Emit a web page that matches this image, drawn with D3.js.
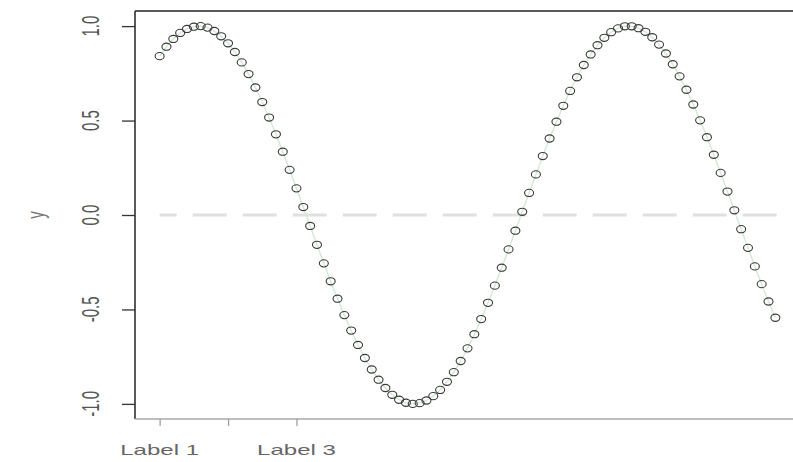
<!DOCTYPE html>
<html>
<head>
<meta charset="utf-8">
<script src="https://cdn.jsdelivr.net/npm/d3@7"></script>
<style>
  html, body { margin: 0; padding: 0; background: #fff; }
  svg { display: block; font-family: "Liberation Sans", Arial, sans-serif; }
</style>
</head>
<body>
<svg id="chart" width="793" height="462"></svg>
<script>
// Sampled values of the series
const xValues = [
  1.0, 1.1, 1.2, 1.3, 1.4, 1.5, 1.6, 1.7, 1.8, 1.9,
  2.0, 2.1, 2.2, 2.3, 2.4, 2.5, 2.6, 2.7, 2.8, 2.9,
  3.0, 3.1, 3.2, 3.3, 3.4, 3.5, 3.6, 3.7, 3.8, 3.9,
  4.0, 4.1, 4.2, 4.3, 4.4, 4.5, 4.6, 4.7, 4.8, 4.9,
  5.0, 5.1, 5.2, 5.3, 5.4, 5.5, 5.6, 5.7, 5.8, 5.9,
  6.0, 6.1, 6.2, 6.3, 6.4, 6.5, 6.6, 6.7, 6.8, 6.9,
  7.0, 7.1, 7.2, 7.3, 7.4, 7.5, 7.6, 7.7, 7.8, 7.9,
  8.0, 8.1, 8.2, 8.3, 8.4, 8.5, 8.6, 8.7, 8.8, 8.9,
  9.0, 9.1, 9.2, 9.3, 9.4, 9.5, 9.6, 9.7, 9.8, 9.9,
  10.0
];
const yValues = [
  0.841, 0.891, 0.932, 0.964, 0.985, 0.997, 1.000, 0.992, 0.974, 0.946,
  0.909, 0.863, 0.808, 0.746, 0.675, 0.598, 0.516, 0.427, 0.335, 0.239,
  0.141, 0.042, -0.058, -0.158, -0.256, -0.351, -0.443, -0.530, -0.612, -0.688,
  -0.757, -0.818, -0.872, -0.916, -0.952, -0.978, -0.994, -1.000, -0.996, -0.982,
  -0.959, -0.926, -0.883, -0.832, -0.773, -0.706, -0.631, -0.551, -0.465, -0.374,
  -0.279, -0.182, -0.083, 0.017, 0.117, 0.215, 0.312, 0.405, 0.494, 0.578,
  0.657, 0.729, 0.794, 0.850, 0.899, 0.938, 0.968, 0.988, 0.999, 0.999,
  0.989, 0.970, 0.941, 0.902, 0.855, 0.798, 0.734, 0.663, 0.585, 0.501,
  0.412, 0.319, 0.223, 0.124, 0.025, -0.075, -0.174, -0.272, -0.366, -0.458,
  -0.544
];

// Axis ticks and labels
const xTickValues = [1, 2, 3];
const xTickLabels = ["Label 1", "", "Label 3"];
const yTickValues = [-1.0, -0.5, 0.0, 0.5, 1.0];
const yTickLabels = ["-1.0", "-0.5", "0.0", "0.5", "1.0"];
const yAxisTitle = "y";
const referenceLevel = [0];

const svg = d3.select("#chart");
const plot = { left: 135, right: 800, top: 11, bottom: 419 };

// Data range padded by 4% on each side
const xExt = d3.extent(xValues);
const xPad = (xExt[1] - xExt[0]) * 0.04;
const x = d3.scaleLinear().domain([xExt[0] - xPad, xExt[1] + xPad]).range([plot.left, plot.right]);
const yExt = d3.extent(yValues);
const yPad = (yExt[1] - yExt[0]) * 0.04;
const y = d3.scaleLinear().domain([yExt[0] - yPad, yExt[1] + yPad]).range([plot.bottom, plot.top]);

const stretch = 1.6; // horizontal text stretch

// Dashed reference line at zero
svg.selectAll("line.ref").data(referenceLevel).join("line")
  .attr("class", "ref")
  .attr("x1", x(xExt[0])).attr("x2", x(xExt[1]) + 6)
  .attr("y1", d => y(d)).attr("y2", d => y(d))
  .attr("stroke", "#e0e0e0").attr("stroke-width", 3)
  .attr("stroke-dasharray", "34,16").attr("stroke-dashoffset", 17);

// Faint trace along the series
const pts = xValues.map((v, i) => [v, yValues[i]]);
svg.append("path")
  .datum(pts)
  .attr("d", d3.line().x(d => x(d[0])).y(d => y(d[1])))
  .attr("fill", "none")
  .attr("stroke", "#d2ead2").attr("stroke-width", 1.4);

// Open circle markers
svg.selectAll("ellipse.pt").data(pts).join("ellipse")
  .attr("class", "pt")
  .attr("cx", d => x(d[0])).attr("cy", d => y(d[1]))
  .attr("rx", 4.5).attr("ry", 3.6)
  .attr("fill", "none").attr("stroke", "#3a3a3a").attr("stroke-width", 1.1);

// Plot frame
svg.append("line").attr("x1", plot.left).attr("x2", 793).attr("y1", plot.top).attr("y2", plot.top)
  .attr("stroke", "#222").attr("stroke-width", 1.5);
svg.append("line").attr("x1", plot.left).attr("x2", plot.left).attr("y1", plot.top).attr("y2", plot.bottom)
  .attr("stroke", "#222").attr("stroke-width", 1.5);
svg.append("line").attr("x1", plot.left).attr("x2", 793).attr("y1", plot.bottom).attr("y2", plot.bottom)
  .attr("stroke", "#a8a8a8").attr("stroke-width", 1.5);

// Y axis
const yAxis = d3.axisLeft(y).tickValues(yTickValues).tickSize(13).tickFormat("");
const gy = svg.append("g").attr("transform", `translate(${plot.left},0)`).call(yAxis);
gy.select(".domain").remove();
gy.selectAll(".tick line").attr("stroke", "#333").attr("stroke-width", 1.3);

svg.selectAll("text.ytick").data(yTickValues).join("text")
  .attr("class", "ytick")
  .attr("transform", (d) => `translate(99,${y(d)}) scale(${stretch},1) rotate(-90)`)
  .attr("text-anchor", "middle")
  .attr("font-size", 15).attr("fill", "#555")
  .text((d, i) => yTickLabels[i]);

svg.append("text")
  .attr("transform", `translate(44,${y(0)}) scale(${stretch},1) rotate(-90)`)
  .attr("text-anchor", "middle")
  .attr("font-size", 15).attr("fill", "#777")
  .text(yAxisTitle);

// X axis
const xAxis = d3.axisBottom(x).tickValues(xTickValues).tickSize(7).tickFormat("");
const gx = svg.append("g").attr("transform", `translate(0,${plot.bottom})`).call(xAxis);
gx.select(".domain").remove();
gx.selectAll(".tick line").attr("stroke", "#999").attr("stroke-width", 1.2);

svg.selectAll("text.xtick").data(xTickValues).join("text")
  .attr("class", "xtick")
  .attr("transform", d => `translate(${x(d)},455) scale(${stretch},1)`)
  .attr("text-anchor", "middle")
  .attr("font-size", 15).attr("fill", "#666")
  .text((d, i) => xTickLabels[i]);
</script>
</body>
</html>
